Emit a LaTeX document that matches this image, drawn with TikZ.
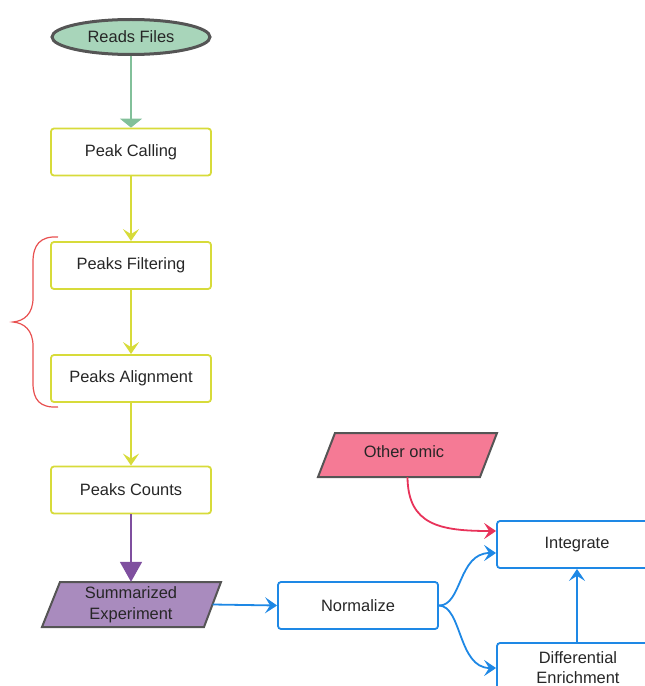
\documentclass[tikz,border=0pt]{standalone}
\usepackage{fontspec}
\setmainfont{Liberation Sans}
\usetikzlibrary{arrows.meta,shapes.geometric}
\definecolor{gfill}{HTML}{A8D5BA}
\definecolor{garrow}{HTML}{82C09A}
\definecolor{ylw}{HTML}{D7DB3A}
\definecolor{pfill}{HTML}{A98BBE}
\definecolor{parrow}{HTML}{7F4F9F}
\definecolor{kfill}{HTML}{F57A95}
\definecolor{rarrow}{HTML}{E8335A}
\definecolor{blu}{HTML}{1E88E5}
\definecolor{brc}{HTML}{E85050}
\definecolor{bord}{HTML}{555555}
\tikzset{
  x=1bp, y=-1bp,
  every node/.style={font=\fontsize{16.5}{19}\selectfont, text=black!85},
  ybox/.style={draw=ylw, line width=1.8bp, rounded corners=3bp, minimum width=160bp, minimum height=47bp, inner sep=0pt},
  bbox/.style={draw=blu, line width=1.8bp, rounded corners=3bp, minimum width=160bp, minimum height=47bp, inner sep=0pt},
  yarr/.style={draw=ylw, line width=1.8bp, -{Stealth[length=12bp, width=16bp, inset=5bp]}},
  barr/.style={draw=blu, line width=1.8bp, -{Stealth[length=12bp, width=16bp, inset=5bp]}},
  rarr/.style={draw=rarrow, line width=1.8bp, -{Stealth[length=12bp, width=16bp, inset=5bp]}},
  para/.style={draw=bord, line width=2bp, line join=miter},
  lab/.style={inner sep=0pt, align=center},
}
\begin{document}
\begin{tikzpicture}
\useasboundingbox (0,0) rectangle (645,686);
\clip (0,0) rectangle (645,686);
% start ellipse
\node[ellipse, draw=bord, line width=3bp, fill=gfill, minimum width=158bp, minimum height=35bp, inner sep=0pt] (reads) at (131,37) {Reads Files};
% yellow boxes
\node[ybox] (call) at (131,152) {Peak Calling};
\node[ybox] (filt) at (131,265.5) {Peaks Filtering};
\node[ybox] (align) at (131,378.5) {Peaks Alignment};
\node[ybox] (count) at (131,490) {Peaks Counts};
% parallelograms
\fill[pfill] (60,582) -- (221,582) -- (204,627) -- (42,627) -- cycle;
\draw[para] (60,582) -- (221,582) -- (204,627) -- (42,627) -- cycle;
\node[lab, minimum width=163bp, minimum height=45bp] (summ) at (131,604.5) {};
\node[lab] (summlab) at (131,605) {Summarized\\[2bp]Experiment};
\fill[kfill] (335,433) -- (497,433) -- (480,477) -- (318,477) -- cycle;
\draw[para] (335,433) -- (497,433) -- (480,477) -- (318,477) -- cycle;
\node[lab, minimum width=150bp, minimum height=44bp] (omic) at (407.5,455) {};
\node[lab] (omiclab) at (404,452) {Other omic};
% blue boxes
\node[bbox] (norm) at (358,605.5) {Normalize};
\node[bbox] (integ) at (577,544.5) {Integrate};
\node[bbox, minimum height=60bp] (diff) at (577,673) {};
\node[lab] (difflab) at (578,668) {Differential\\[1bp]Enrichment};
% connectors
\draw[draw=garrow, line width=1.8bp, -{Triangle[length=9bp, width=22bp]}] (reads) -- (call);
\draw[yarr] (call) -- (filt);
\draw[yarr] (filt) -- (align);
\draw[yarr] (align) -- (count);
\draw[draw=parrow, line width=1.8bp, -{Triangle[length=20bp, width=22bp]}] (count) -- (summ);
\draw[barr] (summ.east) -- (norm.west);
\draw[barr] (norm.east) .. controls (462,606) and (458,553) .. (integ.west |- 0,553);
\draw[barr] (norm.east) .. controls (462,606) and (458,668) .. (diff.west |- 0,668);
\draw[rarr] (omic.south) .. controls (408,525) and (440,531) .. (integ.west |- 0,531);
\draw[barr] (diff.north) -- (integ.south);
% brace
\coordinate (bt) at (58,237);
\coordinate (bb) at (58,407);
\coordinate (btip) at (13,322);
\draw[draw=brc, line width=1.2bp] (bt) .. controls (40,236) and (33,245) .. (33,262)
  -- (33,298) .. controls (33,314) and (24,321) .. (btip)
  .. controls (24,323) and (33,330) .. (33,346)
  -- (33,383) .. controls (33,400) and (40,408) .. (bb);
\end{tikzpicture}
\end{document}
